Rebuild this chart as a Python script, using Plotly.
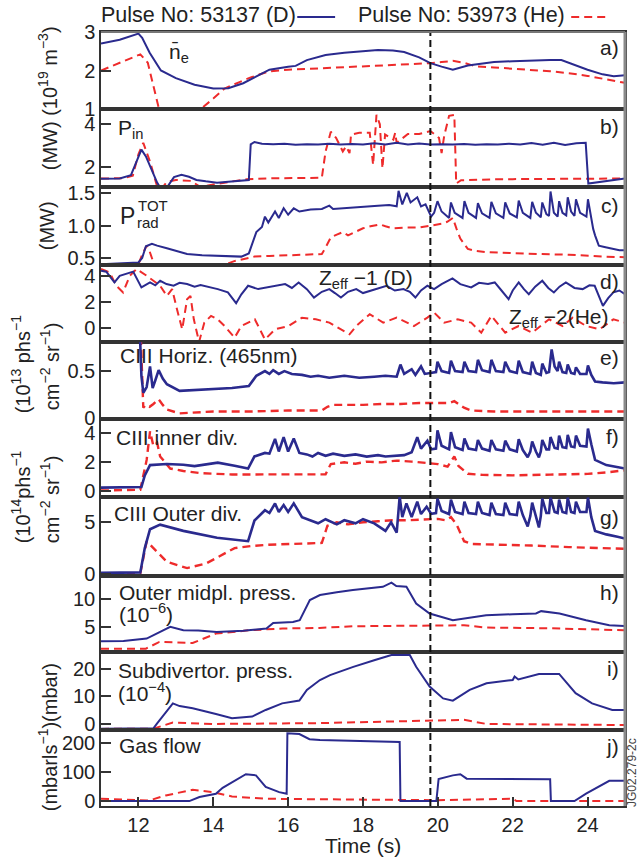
import plotly.graph_objects as go

# ---------------- data ----------------
time_range = [11, 25]
marker_time = 19.8
x_ticks = [12, 14, 16, 18, 20, 22, 24]

ne_D = [(11.0,2.70),(11.5,2.80),(12.0,2.96),(12.1,2.85),(12.3,2.46),(12.6,2.00),(13.0,1.80),(13.5,1.63),(14.0,1.53),(14.4,1.54),(14.8,1.67),(15.2,1.88),(15.5,2.02),(16.0,2.10),(16.2,2.12),(16.5,2.27),(17.0,2.40),(17.5,2.46),(18.0,2.50),(18.4,2.53),(18.8,2.52),(19.1,2.48),(19.5,2.34),(19.8,2.19),(20.1,2.10),(20.4,2.02),(20.8,2.13),(21.5,2.22),(22.0,2.24),(22.5,2.26),(23.0,2.27),(23.3,2.27),(23.7,2.12),(24.0,2.02),(24.4,1.90),(24.7,1.85),(25.0,1.88)]
ne_He = [(11.0,2.00),(11.5,2.20),(12.0,2.40),(12.05,2.42),(12.25,2.20),(12.4,1.60),(12.55,1.00),(12.8,0.75),(13.1,0.65),(13.4,0.72),(13.7,1.03),(14.0,1.27),(14.3,1.53),(14.7,1.70),(15.0,1.82),(15.5,1.98),(16.0,2.02),(16.5,2.04),(17.0,2.06),(17.5,2.08),(18.0,2.10),(18.5,2.12),(19.0,2.14),(19.5,2.17),(19.8,2.19),(20.1,2.22),(20.4,2.25),(20.7,2.20),(21.0,2.11),(21.5,2.08),(22.0,2.05),(22.5,2.02),(23.0,1.98),(23.5,1.93),(24.0,1.86),(24.5,1.77),(25.0,1.68)]

pin_D = [(11.0,1.48),(11.5,1.49),(11.8,1.64),(11.95,2.30),(12.08,2.81),(12.2,2.50),(12.35,1.90),(12.5,1.30),(12.6,1.02),(12.75,1.05),(12.95,1.55),(13.15,1.66),(13.35,1.57),(13.55,1.42),(13.8,1.36),(14.1,1.30),(14.4,1.34),(14.7,1.40),(14.95,1.42),(15.0,3.05),(15.1,3.16),(15.3,3.08),(15.6,3.06),(15.9,3.08),(16.2,3.03),(16.5,3.06),(16.8,3.04),(17.1,3.08),(17.4,3.05),(17.7,3.07),(18.0,3.04),(18.3,3.10),(18.6,3.05),(18.9,3.12),(19.2,3.04),(19.5,3.09),(19.8,3.05),(20.1,3.06),(20.4,3.04),(20.7,3.07),(21.0,3.03),(21.3,3.06),(21.6,3.05),(21.9,3.08),(22.2,3.04),(22.5,3.11),(22.8,3.03),(23.1,3.13),(23.4,3.02),(23.7,3.10),(23.95,3.12),(24.02,1.26),(24.5,1.38),(25.0,1.49)]
pin_He = [(11.0,1.49),(11.6,1.50),(11.85,1.62),(12.0,2.60),(12.13,3.12),(12.31,2.26),(12.49,1.18),(12.6,0.98),(12.76,1.33),(13.0,1.42),(13.4,1.38),(13.66,1.10),(14.0,1.22),(14.39,1.33),(14.9,1.46),(15.5,1.50),(16.2,1.51),(16.9,1.52),(17.0,2.73),(17.14,3.63),(17.28,3.35),(17.46,2.73),(17.55,2.96),(17.64,2.65),(17.68,3.50),(17.9,3.58),(18.18,3.58),(18.27,2.11),(18.36,4.40),(18.45,3.97),(18.52,1.95),(18.59,3.50),(18.81,3.27),(18.86,3.58),(18.9,3.12),(19.2,3.53),(19.5,3.53),(19.8,3.66),(20.03,3.35),(20.1,2.65),(20.17,3.45),(20.3,4.36),(20.44,4.40),(20.49,1.26),(20.62,1.41),(21.0,1.44),(21.5,1.45),(22.0,1.46),(22.5,1.46),(23.0,1.47),(23.5,1.47),(24.0,1.48),(24.5,1.48),(25.0,1.49)]

prad_D = [(11.0,0.40),(11.5,0.41),(12.0,0.43),(12.1,0.50),(12.2,0.68),(12.36,0.72),(12.5,0.69),(12.76,0.65),(13.0,0.61),(13.3,0.56),(13.7,0.54),(14.1,0.53),(14.5,0.52),(14.75,0.52),(14.95,0.57),(15.05,0.72),(15.15,0.90),(15.3,0.98),(15.38,1.14),(15.47,1.05),(15.65,1.22),(15.75,1.12),(15.88,1.27),(16.0,1.17),(16.15,1.27),(16.3,1.22),(16.6,1.25),(16.9,1.26),(17.1,1.31),(17.2,1.26),(17.6,1.28),(18.0,1.29),(18.4,1.31),(18.7,1.32),(18.9,1.30),(18.95,1.54),(19.05,1.33),(19.17,1.51),(19.27,1.36),(19.45,1.44),(19.55,1.30),(19.67,1.33),(19.75,1.22),(19.82,1.14),(19.9,1.20),(19.99,1.38),(20.1,1.22),(20.3,1.12),(20.35,1.36),(20.45,1.20),(20.66,1.12),(20.71,1.38),(20.82,1.20),(21.02,1.12),(21.07,1.35),(21.18,1.19),(21.38,1.12),(21.43,1.37),(21.55,1.19),(21.75,1.12),(21.8,1.36),(21.92,1.19),(22.11,1.13),(22.16,1.39),(22.27,1.20),(22.47,1.12),(22.52,1.37),(22.62,1.20),(22.75,1.13),(22.79,1.36),(22.9,1.18),(22.97,1.15),(23.01,1.53),(23.1,1.20),(23.2,1.14),(23.24,1.38),(23.33,1.20),(23.43,1.16),(23.47,1.44),(23.56,1.22),(23.65,1.15),(23.69,1.41),(23.8,1.20),(23.97,1.14),(24.01,1.41),(24.08,1.15),(24.15,0.95),(24.2,0.85),(24.3,0.69),(24.45,0.67),(24.65,0.64),(24.85,0.62),(25.0,0.62)]
prad_He = [(11.0,0.39),(11.2,0.37),(11.5,0.36),(12.0,0.40),(12.1,0.55),(12.22,0.69),(12.3,0.60),(12.4,0.43),(12.55,0.32),(13.0,0.28),(13.5,0.28),(14.0,0.33),(14.56,0.45),(15.1,0.52),(15.5,0.53),(16.0,0.54),(16.5,0.55),(16.9,0.56),(17.0,0.66),(17.14,0.82),(17.3,0.86),(17.46,0.90),(17.6,0.85),(17.8,0.90),(18.0,0.96),(18.2,0.99),(18.45,1.02),(18.6,0.99),(18.8,0.96),(19.1,0.97),(19.5,0.97),(19.8,1.00),(20.1,1.03),(20.25,1.06),(20.4,1.12),(20.5,0.95),(20.6,0.80),(20.8,0.64),(21.0,0.61),(21.3,0.59),(22.0,0.57),(22.7,0.56),(23.5,0.55),(24.0,0.53),(24.5,0.52),(25.0,0.51)]

zeff_D = [(11.0,4.44),(11.14,4.37),(11.36,3.53),(11.5,4.05),(11.86,4.37),(12.08,3.14),(12.31,3.53),(12.45,3.30),(12.58,3.66),(12.75,3.40),(12.94,3.27),(13.1,3.50),(13.3,3.40),(13.5,3.20),(13.66,3.32),(13.9,3.15),(14.12,3.01),(14.39,2.75),(14.61,1.91),(14.75,2.60),(14.93,3.27),(15.2,3.01),(15.47,3.14),(15.7,3.30),(15.92,3.40),(16.1,3.10),(16.28,3.53),(16.5,3.00),(16.69,2.35),(16.9,2.80),(17.1,3.01),(17.25,2.70),(17.41,2.35),(17.6,2.80),(17.82,3.01),(18.0,2.70),(18.18,2.88),(18.4,3.10),(18.63,3.27),(18.85,2.90),(19.08,3.01),(19.25,2.80),(19.4,2.35),(19.55,2.90),(19.72,3.27),(19.9,3.01),(20.1,3.40),(20.39,3.84),(20.6,3.40),(20.89,3.14),(21.1,3.50),(21.34,3.40),(21.52,3.53),(21.7,2.90),(21.89,2.22),(22.0,2.90),(22.16,3.53),(22.3,3.00),(22.43,2.61),(22.6,3.20),(22.79,3.66),(22.95,3.10),(23.1,2.75),(23.25,3.20),(23.42,3.53),(23.65,3.10),(23.87,3.01),(24.05,3.30),(24.19,3.27),(24.41,1.70),(24.55,2.30),(24.69,2.75),(24.85,2.90),(25.0,2.61)]
zeff_He = [(11.0,4.58),(11.23,4.31),(11.41,3.27),(11.59,2.75),(11.77,4.05),(11.95,4.58),(12.22,4.05),(12.58,3.27),(12.76,2.48),(12.9,3.01),(13.03,1.44),(13.17,-0.13),(13.3,2.22),(13.39,2.48),(13.48,0.65),(13.62,-1.12),(13.76,0.39),(13.94,0.92),(14.12,0.65),(14.3,0.13),(14.57,-0.78),(14.75,0.13),(15.11,0.65),(15.38,-0.92),(15.65,-0.13),(16.01,0.13),(16.37,0.78),(16.74,0.65),(17.1,0.39),(17.64,-0.52),(17.82,0.13),(18.18,1.05),(18.54,0.39),(18.9,0.78),(19.36,0.13),(19.72,0.78),(19.9,1.18),(20.17,0.39),(20.53,0.65),(20.89,0.39),(21.16,-0.39),(21.43,0.92),(21.8,-0.39),(22.16,0.13),(22.52,-0.39),(22.97,0.65),(23.33,0.13),(23.6,0.78),(23.96,0.13),(24.32,-0.13),(24.69,0.65),(25.0,0.39)]

ciii_h_D = [(12.03,1.00),(12.08,0.45),(12.13,0.27),(12.22,0.33),(12.31,0.55),(12.38,0.32),(12.45,0.40),(12.54,0.51),(12.65,0.42),(12.76,0.36),(13.1,0.29),(13.5,0.30),(14.0,0.31),(14.5,0.32),(14.95,0.34),(15.15,0.45),(15.38,0.50),(15.5,0.47),(15.6,0.51),(15.75,0.47),(15.9,0.50),(16.1,0.47),(16.37,0.46),(16.6,0.44),(16.8,0.45),(17.1,0.43),(17.5,0.45),(17.9,0.43),(18.3,0.44),(18.6,0.45),(18.9,0.44),(19.0,0.57),(19.1,0.47),(19.3,0.52),(19.4,0.46),(19.55,0.55),(19.65,0.47),(19.8,0.48),(19.95,0.49),(19.99,0.60),(20.1,0.50),(20.3,0.48),(20.35,0.61),(20.46,0.50),(20.66,0.49),(20.71,0.60),(20.82,0.50),(21.02,0.49),(21.07,0.62),(21.18,0.51),(21.38,0.49),(21.43,0.62),(21.55,0.50),(21.75,0.49),(21.8,0.60),(21.92,0.50),(22.11,0.48),(22.16,0.61),(22.27,0.49),(22.47,0.47),(22.52,0.60),(22.62,0.48),(22.75,0.46),(22.79,0.58),(22.9,0.48),(22.97,0.49),(23.04,0.73),(23.12,0.55),(23.2,0.50),(23.24,0.60),(23.33,0.49),(23.43,0.48),(23.47,0.57),(23.56,0.48),(23.65,0.47),(23.69,0.54),(23.8,0.47),(23.97,0.47),(24.01,0.56),(24.1,0.46),(24.2,0.39),(24.4,0.38),(24.7,0.37),(25.0,0.38)]
ciii_h_He = [(12.05,1.00),(12.1,0.30),(12.13,0.11),(12.2,0.14),(12.3,0.12),(12.4,0.15),(12.54,0.20),(12.65,0.14),(12.76,0.09),(13.1,0.05),(13.5,0.06),(14.0,0.07),(15.0,0.07),(16.0,0.08),(16.9,0.08),(17.05,0.12),(17.2,0.14),(17.6,0.14),(18.0,0.14),(18.5,0.15),(19.0,0.15),(19.5,0.16),(20.0,0.16),(20.3,0.16),(20.44,0.18),(20.55,0.15),(20.7,0.11),(20.9,0.08),(21.5,0.07),(22.5,0.07),(23.5,0.07),(24.5,0.07),(25.0,0.07)]

ciii_in_D = [(11.0,0.20),(11.5,0.21),(12.0,0.22),(12.08,0.24),(12.17,1.04),(12.31,1.76),(12.76,1.83),(13.2,1.78),(13.5,1.69),(13.8,1.80),(14.12,1.93),(14.57,1.72),(14.93,1.52),(15.1,2.36),(15.38,2.60),(15.5,2.55),(15.65,3.57),(15.75,2.70),(15.88,3.69),(16.0,2.70),(16.15,3.60),(16.3,2.60),(16.5,2.50),(16.65,2.35),(16.8,2.60),(17.0,2.40),(17.2,2.55),(17.5,2.40),(17.8,2.50),(18.1,2.35),(18.4,2.45),(18.6,2.35),(18.9,2.40),(19.1,2.45),(19.3,2.65),(19.45,3.69),(19.55,2.90),(19.72,3.45),(19.82,2.85),(19.95,2.90),(19.99,4.16),(20.1,3.10),(20.3,2.85),(20.35,4.04),(20.46,3.00),(20.66,2.80),(20.71,3.60),(20.82,2.90),(21.02,2.80),(21.07,3.50),(21.18,2.90),(21.38,2.75),(21.43,3.50),(21.55,2.85),(21.75,2.75),(21.8,3.45),(21.92,2.85),(22.11,2.70),(22.16,3.55),(22.27,2.80),(22.4,2.30),(22.47,2.70),(22.52,3.40),(22.62,2.70),(22.7,2.30),(22.75,2.70),(22.79,3.50),(22.9,2.85),(22.97,2.85),(23.01,3.70),(23.12,2.95),(23.2,2.90),(23.24,3.80),(23.33,3.00),(23.43,2.95),(23.47,3.85),(23.56,3.05),(23.65,3.00),(23.69,3.80),(23.8,3.10),(23.97,3.05),(24.01,4.29),(24.1,3.20),(24.2,2.12),(24.5,1.76),(24.8,1.60),(25.0,1.52)]
ciii_in_He = [(11.0,0.00),(11.5,0.01),(12.05,0.05),(12.22,2.12),(12.31,4.10),(12.4,3.08),(12.5,3.30),(12.58,2.36),(12.85,1.52),(13.2,1.35),(13.66,1.20),(14.5,1.11),(15.5,1.10),(16.5,1.12),(17.0,1.12),(17.14,1.83),(17.5,1.95),(17.8,1.85),(18.1,2.00),(18.5,1.95),(18.9,2.07),(19.3,2.00),(19.8,1.90),(20.0,1.83),(20.26,1.65),(20.44,2.36),(20.55,1.70),(20.8,1.16),(21.2,1.08),(22.0,1.05),(23.0,1.10),(24.0,1.15),(24.5,1.25),(25.0,1.40)]

ciii_out_D = [(11.0,0.10),(12.05,0.15),(12.17,2.50),(12.31,4.33),(12.58,4.77),(13.2,4.17),(14.1,3.50),(14.93,3.17),(15.1,5.17),(15.38,6.17),(15.5,5.90),(15.65,6.83),(15.75,6.00),(15.88,6.67),(16.0,6.00),(16.15,6.83),(16.37,5.50),(16.6,5.20),(16.8,4.90),(17.0,5.30),(17.3,4.80),(17.5,5.20),(17.8,4.90),(18.0,5.30),(18.3,4.90),(18.6,4.17),(18.75,5.00),(18.9,4.00),(18.98,7.50),(19.05,5.50),(19.16,6.83),(19.3,5.50),(19.45,7.00),(19.55,5.80),(19.7,6.50),(19.82,5.83),(19.95,5.90),(19.99,7.30),(20.1,6.10),(20.3,5.80),(20.35,7.20),(20.46,6.00),(20.66,5.80),(20.71,7.00),(20.82,5.90),(21.02,5.80),(21.07,7.00),(21.18,5.90),(21.38,5.70),(21.43,6.90),(21.55,5.80),(21.75,5.70),(21.8,6.90),(21.92,5.80),(22.11,5.70),(22.16,7.00),(22.27,5.70),(22.4,4.60),(22.47,5.60),(22.52,6.90),(22.62,5.60),(22.7,4.50),(22.75,5.60),(22.79,7.30),(22.9,5.90),(22.97,5.90),(23.01,7.40),(23.12,6.00),(23.2,5.90),(23.24,7.20),(23.33,6.00),(23.43,5.90),(23.47,7.40),(23.56,6.00),(23.65,5.90),(23.69,7.00),(23.8,6.00),(23.97,6.00),(24.01,7.40),(24.1,5.50),(24.2,4.17),(24.5,3.83),(24.8,3.60),(25.0,3.43)]
ciii_out_He = [(11.0,0.00),(12.05,0.05),(12.22,3.17),(12.31,2.83),(12.76,1.17),(13.3,0.57),(13.8,1.00),(14.57,2.50),(15.0,2.70),(15.47,2.83),(16.2,2.95),(16.9,3.00),(17.05,4.67),(17.3,5.00),(17.6,4.80),(18.0,5.00),(18.4,5.10),(18.8,5.20),(19.2,5.20),(19.6,5.30),(20.0,5.33),(20.2,5.20),(20.35,5.50),(20.5,4.80),(20.7,3.17),(20.9,2.90),(21.5,2.85),(22.5,2.75),(23.5,2.60),(24.5,2.50),(25.0,2.43)]

p_mid_D = [(11.0,2.38),(11.6,2.45),(12.22,2.87),(12.49,3.78),(12.85,5.00),(13.2,4.39),(13.6,4.35),(14.09,4.09),(14.8,4.30),(15.42,4.70),(15.6,5.73),(16.13,5.91),(16.31,6.22),(16.58,9.88),(16.85,10.8),(17.3,11.3),(17.73,11.7),(18.53,12.3),(18.76,13.05),(18.89,12.44),(19.16,12.3),(19.42,9.27),(19.78,7.44),(20.4,6.22),(20.8,6.6),(21.29,7.13),(22.0,7.3),(22.62,7.44),(22.76,7.87),(23.25,7.44),(23.96,6.22),(24.58,5.30),(24.98,5.18)]
p_mid_He = [(11.0,1.04),(12.2,1.04),(12.56,2.26),(13.45,2.07),(14.07,3.78),(14.96,4.39),(15.85,4.70),(16.84,4.82),(17.73,5.12),(19.78,5.30),(20.7,5.30),(21.29,4.88),(23.0,4.75),(24.98,4.39)]

p_sub_D = [(11.0,-1.7),(12.4,-1.6),(12.5,0.24),(12.75,4.5),(12.92,7.5),(13.1,6.5),(13.45,5.7),(14.07,3.6),(14.5,2.1),(15.04,2.7),(15.4,5.1),(15.84,7.5),(16.3,8.5),(16.5,12.4),(16.85,16.0),(17.12,17.8),(17.74,20.8),(18.32,23.3),(18.76,25.1),(19.25,25.1),(19.42,20.8),(19.78,13.6),(20.14,9.3),(20.4,8.5),(20.85,12.4),(21.3,14.8),(22.0,16.0),(22.05,17.3),(22.15,16.2),(22.7,18.2),(23.24,18.2),(23.68,11.2),(24.12,7.5),(24.66,5.1),(25.0,5.1)]
p_sub_He = [(11.0,-1.8),(12.4,-1.7),(12.92,0.5),(14.0,0.0),(16.84,0.3),(18.5,0.8),(20.7,1.5),(21.3,0.0),(25.0,-0.4)]

gas_D = [(11.0,0),(13.36,0),(13.63,14),(14.07,25.5),(14.25,46),(14.5,66),(14.87,93),(15.14,89),(15.4,49),(15.76,31),(15.96,25.5),(15.98,234.6),(16.3,232),(16.57,214),(16.85,211.6),(18.98,204.6),(19.0,0),(19.96,0),(20.02,76.6),(20.4,89),(20.6,93),(20.77,77.7),(23.0,75.5),(23.02,0),(23.65,0),(23.96,25.5),(24.58,70),(24.98,70)]
gas_He = [(11.0,8),(12.28,2),(12.73,19.6),(13.45,39),(13.98,31),(14.5,16),(15.4,8),(16.84,6),(18.0,4),(20.0,3),(22.0,8),(22.1,0),(25.0,0)]

panel_series = [(ne_D, ne_He), (pin_D, pin_He), (prad_D, prad_He), (zeff_D, zeff_He),
                (ciii_h_D, ciii_h_He), (ciii_in_D, ciii_in_He), (ciii_out_D, ciii_out_He),
                (p_mid_D, p_mid_He), (p_sub_D, p_sub_He), (gas_D, gas_He)]
y_ranges = [[1, 3], [1.1, 4.67], [0.39, 1.6], [-1.12, 4.89], [-0.01, 0.81],
            [-0.45, 4.95], [-0.2, 7.45], [0.43, 14.27], [-2.2, 26.2], [-17, 246]]
y_tickvals = [[1, 2, 3], [2, 4], [0.5, 1.0, 1.5], [0, 2, 4], [0, 0.5],
              [0, 2, 4], [0, 5], [5, 10], [0, 10, 20], [0, 100, 200]]
y_ticktext = [["1", "2", "3"], ["2", "4"], ["0.5", "1.0", "1.5"], ["0", "2", "4"], ["0", "0.5"],
              ["0", "2", "4"], ["0", "5"], ["5", "10"], ["0", "10", "20"], ["0", "100", "200"]]
panel_letters = ["a)", "b)", "c)", "d)", "e)", "f)", "g)", "h)", "i)", "j)"]
legend_D = "Pulse No: 53137 (D)"
legend_He = "Pulse No: 53973 (He)"

# ---------------- layout geometry ----------------
W, H = 639, 861
L, R, T, B = 101, 627, 32, 806
bounds = [32, 109, 187, 265, 342, 419, 497, 576, 652, 730, 806]
FONT = "Liberation Sans, Arial, Helvetica, sans-serif"
BLUE = "#2a2a8e"
RED = "#ee2b2b"
AXC = "#333333"
blue_width = [2, 2, 2, 2, 2.6, 2.6, 2.6, 2, 2, 2]
red_width = [2, 2, 2, 2, 2.4, 2.4, 2.4, 2, 2, 2]


def px(xp):
    return (xp - L) / (R - L)


def py(yp):
    return (B - yp) / (B - T)


fig = go.Figure()
layout = dict(width=W, height=H, margin=dict(l=L, r=W - R, t=T, b=H - B),
              paper_bgcolor="white", plot_bgcolor="white", showlegend=False,
              font=dict(family=FONT, size=19, color="#222"))

for k in range(10):
    n = k + 1
    xa = "x" if n == 1 else f"x{n}"
    ya = "y" if n == 1 else f"y{n}"
    xkey = "xaxis" if n == 1 else f"xaxis{n}"
    ykey = "yaxis" if n == 1 else f"yaxis{n}"
    bottom = (n == 10)
    layout[xkey] = dict(domain=[0, 1], anchor=ya, range=time_range, showgrid=False, zeroline=False,
                        showline=True, mirror=True, linecolor=AXC, linewidth=1.5,
                        showticklabels=bottom, tickvals=x_ticks if bottom else [],
                        ticks="inside" if bottom else "", ticklen=9, tickwidth=1.5, tickcolor=AXC,
                        tickfont=dict(size=20, family=FONT, color="#222"),
                        **({} if n == 1 else dict(matches="x")))
    layout[ykey] = dict(domain=[py(bounds[n]), py(bounds[k])], anchor=xa, range=y_ranges[k],
                        showgrid=False, zeroline=False, showline=True, mirror=True,
                        linecolor=AXC, linewidth=1.5, tickvals=y_tickvals[k], ticktext=y_ticktext[k],
                        ticks="inside", ticklen=10, tickwidth=1.5, tickcolor=AXC,
                        tickfont=dict(size=20, family=FONT, color="#222"))
    d_series, he_series = panel_series[k]
    fig.add_trace(go.Scatter(x=[p[0] for p in he_series], y=[p[1] for p in he_series],
                             xaxis=xa, yaxis=ya, mode="lines",
                             line=dict(color=RED, width=red_width[k], dash="8px,5px")))
    fig.add_trace(go.Scatter(x=[p[0] for p in d_series], y=[p[1] for p in d_series],
                             xaxis=xa, yaxis=ya, mode="lines",
                             line=dict(color=BLUE, width=blue_width[k])))

shapes = [
    dict(type="line", xref="x", yref="paper", x0=marker_time, x1=marker_time, y0=0, y1=1,
         line=dict(color="#111", width=2, dash="7px,4px")),
    dict(type="line", xref="paper", yref="paper", x0=1, x1=1, y0=0, y1=1,
         line=dict(color="#8a8a8a", width=3)),
    dict(type="line", xref="paper", yref="paper", x0=0, x1=1, y0=1, y1=1,
         line=dict(color="#777", width=2)),
    dict(type="line", xref="paper", yref="paper", x0=px(298), x1=px(336), y0=py(17), y1=py(17),
         line=dict(color=BLUE, width=2)),
    dict(type="line", xref="paper", yref="paper", x0=px(573), x1=px(612), y0=py(17), y1=py(17),
         line=dict(color=RED, width=2, dash="8px,5px")),
]
layout["shapes"] = shapes

ann = []


def text(x, y, s, size=21, xanchor="left", angle=0, color="#222"):
    ann.append(dict(xref="paper", yref="paper", x=px(x), y=py(y), text=s, showarrow=False,
                    xanchor=xanchor, yanchor="middle", textangle=angle,
                    font=dict(family=FONT, size=size, color=color)))


# legend texts
text(99, 15, legend_D, size=21.5)
text(357, 15, legend_He, size=21.5)

# panel letters
letter_y = [48, 127, 205, 282, 357, 436, 517, 592, 668, 746]
for lbl, yy in zip(panel_letters, letter_y):
    text(623, yy, lbl, size=21, xanchor="right")

# in-panel labels
text(167, 53, "n\u0304<sub>e</sub>")
text(116, 129, "P<sub>in</sub>")
text(118, 216, "P", size=23)
text(136, 206, "TOT", size=15)
text(135, 222, "rad", size=15)
text(318, 279, "Z<sub>eff</sub> \u22121 (D)")
text(509, 318, "Z<sub>eff</sub> \u22122(He)")
text(118, 355, "CIII Horiz. (465nm)")
text(114, 437, "CIII inner div.")
text(112, 513, "CIII Outer div.")
text(117, 592, "Outer midpl. press.")
text(117, 613, "(10<sup>\u22126</sup>)")
text(116, 670, "Subdivertor. press.")
text(116, 692, "(10<sup>\u22124</sup>)")
text(117, 745, "Gas flow")

# left axis titles
text(47, 98, "(MW) (10<sup>19</sup> m<sup>\u22123</sup>)", size=20, xanchor="center", angle=-90)
text(47, 226, "(MW)", size=20, xanchor="center", angle=-90)
text(21, 364, "(10<sup>13</sup> phs<sup>\u22121</sup>", size=20, xanchor="center", angle=-90)
text(49, 366, "cm<sup>\u22122</sup> sr<sup>\u22121</sup>)", size=20, xanchor="center", angle=-90)
text(21, 497, "(10<sup>14</sup>phs<sup>\u22121</sup>", size=20, xanchor="center", angle=-90)
text(49, 499, "cm<sup>\u22122</sup> sr<sup>\u22121</sup>)", size=20, xanchor="center", angle=-90)
text(47, 737, "(mbarls<sup>\u22121</sup>)(mbar)", size=20, xanchor="center", angle=-90)

# x title and code
text(364, 845, "Time (s)", size=21, xanchor="center")
text(634, 772, "JG02.279-2c", size=12, xanchor="center", angle=-90, color="#444")

layout["annotations"] = ann
fig.update_layout(**layout)
fig.write_html("out.html")
